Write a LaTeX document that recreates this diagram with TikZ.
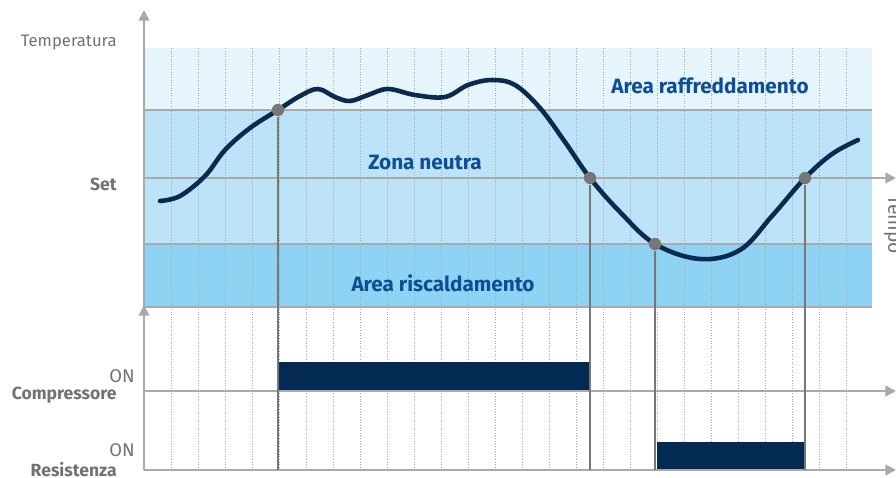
\documentclass[tikz,border=0pt]{standalone}
\usepackage{fontspec}
\setmainfont{Fira Sans}
\usetikzlibrary{arrows.meta}
\definecolor{bandtop}{HTML}{E6F4FC}
\definecolor{bandmid}{HTML}{BDE3F8}
\definecolor{bandlow}{HTML}{8FD3F4}
\definecolor{curvenavy}{HTML}{0B2A4F}
\definecolor{barnavy}{HTML}{022A52}
\definecolor{zonetext}{HTML}{0D4E94}
\definecolor{axisgray}{HTML}{A9A9A9}
\definecolor{labelgray}{HTML}{727272}
\definecolor{dotgray}{HTML}{777777}
\begin{document}
\begin{tikzpicture}[x=0.02cm,y=-0.02cm,
	axis_line/.style={draw=axisgray,line width=1.2pt,-{Triangle[length=6pt,width=6pt]}},
	band_line/.style={draw=axisgray,line width=0.9pt},
	grid_line/.style={draw=gray!70,densely dotted,line width=0.5pt},
	drop_line/.style={draw=dotgray,line width=1pt},
	cross_dot/.style={circle,fill=dotgray,minimum size=7pt,inner sep=0pt},
	zone_label/.style={text=zonetext,font=\bfseries\fontsize{11.8}{13}\selectfont},
	axis_label/.style={text=labelgray,inner sep=0pt,font=\fontsize{9.5}{11}\selectfont},
	row_label/.style={text=labelgray,inner sep=0pt,font=\bfseries\fontsize{10}{11}\selectfont}]
	
	\useasboundingbox (0,0) rectangle (896,477);
	
	% bande di temperatura
	\fill[bandtop] (144,48) rectangle (872,110);
	\fill[bandmid] (144,110) rectangle (872,244);
	\fill[bandlow] (144,244) rectangle (872,307);
	
	% griglia
	\foreach \gx in {1,...,26} {
		\draw[grid_line] (144+27*\gx,48) -- (144+27*\gx,470);
	}
	
	\draw[band_line] (144,110) -- (872,110);
	\draw[band_line] (144,244) -- (872,244);
	\draw[band_line] (144,307) -- (872,307);
	
	% barre ON
	\fill[barnavy] (278,362) rectangle (590,391);
	\fill[barnavy] (657,442) rectangle (805,470);
	
	% assi
	\coordinate (tb) at (144,307);
	\coordinate (tt) at (144,10);
	\coordinate (sl) at (144,178);
	\coordinate (sr) at (896,178);
	\coordinate (cb) at (144,470);
	\coordinate (ct) at (144,305);
	\coordinate (cl) at (144,391);
	\coordinate (cr) at (896,391);
	\coordinate (rl) at (144,470);
	\coordinate (rr) at (896,470);
	\draw[axis_line] (tb) -- (tt);
	\draw[axis_line] (sl) -- (sr);
	\draw[axis_line] (cb) -- (ct);
	\draw[axis_line] (cl) -- (cr);
	\draw[axis_line] (rl) -- (rr);
	
	% curva della temperatura
	\draw[curvenavy,line width=2.6pt,line cap=round] plot[smooth,tension=0.6] coordinates {
		(160,201) (180,196) (205,176) (225,150) (250,128) (278,110) (300,96) (318,89)
		(335,97) (350,101) (368,95) (388,89) (415,95) (445,97) (468,85) (492,80)
		(515,85) (540,108) (565,142) (590,178) (620,212) (655,244) (700,259)
		(740,250) (772,216) (805,178) (832,154) (858,140)};
	
	% punti di intervento
	\node[cross_dot] (p1) at (278,110) {};
	\node[cross_dot] (p2) at (590,178) {};
	\node[cross_dot] (p3) at (655,244) {};
	\node[cross_dot] (p4) at (805,178) {};
	\coordinate (q1) at (278,470);
	\coordinate (q2) at (590,470);
	\coordinate (q3) at (655,470);
	\coordinate (q4) at (805,470);
	\draw[drop_line] (p1) -- (q1);
	\draw[drop_line] (p2) -- (q2);
	\draw[drop_line] (p3) -- (q3);
	\draw[drop_line] (p4) -- (q4);
	
	% testi
	\node[zone_label] (raff) at (710,86) {Area raffreddamento};
	\node[zone_label] (neut) at (425,162) {Zona neutra};
	\node[zone_label] (risc) at (443,283) {Area riscaldamento};
	\node[axis_label,anchor=east] (temp) at (117,43) {Temperatura};
	\node[row_label,anchor=east] (set) at (117,184) {Set};
	\node[axis_label,rotate=-90,anchor=south west,font=\fontsize{11}{12}\selectfont] (tempo) at (884,195) {Tempo};
	\node[axis_label,anchor=east,font=\fontsize{10.5}{12}\selectfont] (on1) at (135,376) {ON};
	\node[row_label,anchor=east] (comp) at (117,395) {Compressore};
	\node[axis_label,anchor=east,font=\fontsize{10.5}{12}\selectfont] (on2) at (135,450) {ON};
	\node[row_label,anchor=east] (res) at (117,470) {Resistenza};
	\end{tikzpicture}
\end{document}
